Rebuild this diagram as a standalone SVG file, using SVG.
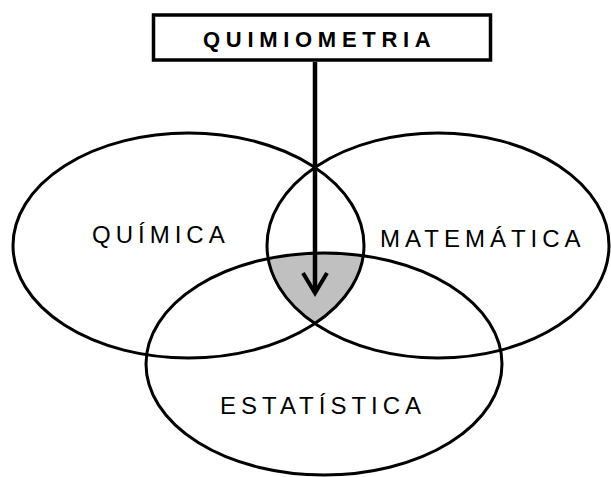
<svg xmlns="http://www.w3.org/2000/svg" width="611" height="477" viewBox="0 0 611 477">
<style>
.set{fill:none;stroke:#000;stroke-width:3}
.lbl{font-family:"Liberation Sans",Arial,sans-serif;font-size:24px;letter-spacing:5px;fill:#000}
.title{font-family:"Liberation Sans",Arial,sans-serif;font-size:22px;font-weight:bold;letter-spacing:5.7px;fill:#000}
</style>
<defs>
<clipPath id="cL"><ellipse cx="188.5" cy="245.5" rx="175.5" ry="112.5"/></clipPath>
<clipPath id="cR"><ellipse cx="438" cy="245.5" rx="171" ry="112.5"/></clipPath>
</defs>
<rect width="611" height="477" fill="#fff"/>
<g id="intersection" clip-path="url(#cR)">
<ellipse cx="324" cy="364" rx="178" ry="111" fill="#c0c0c0" clip-path="url(#cL)"/>
</g>
<g id="quimica">
<ellipse class="set" cx="188.5" cy="245.5" rx="175.5" ry="112.5"/>
<text class="lbl" x="92" y="243">QUÍMICA</text>
</g>
<g id="matematica">
<ellipse class="set" cx="438" cy="245.5" rx="171" ry="112.5"/>
<text class="lbl" x="380" y="247">MATEMÁTICA</text>
</g>
<g id="estatistica">
<ellipse class="set" cx="324" cy="364" rx="178" ry="111"/>
<text class="lbl" x="220" y="414">ESTATÍSTICA</text>
</g>
<g id="quimiometria">
<rect x="153.5" y="15" width="337" height="45" fill="#fff" stroke="#000" stroke-width="3.5"/>
<text class="title" x="203" y="47">QUIMIOMETRIA</text>
</g>
<g id="connectors" fill="none" stroke="#000">
<line x1="315" y1="62" x2="315" y2="292" stroke-width="4.5"/>
<polyline points="303,273 315,293 327,273" stroke-width="4" stroke-linejoin="miter"/>
</g>
</svg>
